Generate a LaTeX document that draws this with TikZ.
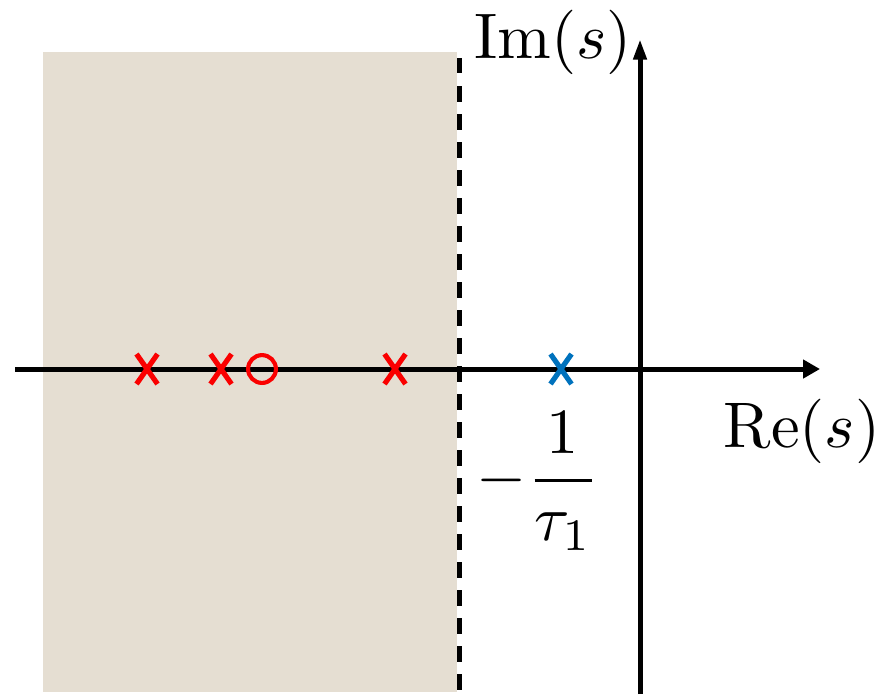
\documentclass[tikz,border=0pt]{standalone}
\usepackage{graphicx}
\usetikzlibrary{arrows.meta}
\definecolor{sand}{RGB}{229,222,210}
\definecolor{polered}{RGB}{250,0,0}
\definecolor{poleblue}{RGB}{0,114,189}
\newcommand{\bigtxt}[1]{\scalebox{1.065}{#1}}
\begin{document}
\begin{tikzpicture}[x=0.1653pt,y=-0.1653pt,
  axisline/.style={line width=0.83pt, black},
  dashline/.style={line width=0.75pt, black, dash pattern=on 2.56pt off 2.07pt},
  polex/.pic={\draw[line width=0.85pt] (-10.5,-15)--(10.5,15) (-10.5,15)--(10.5,-15);},
  poleo/.style={circle, draw=polered, line width=0.68pt, minimum size=4.6pt, inner sep=0pt},
  lbl/.style={inner sep=0pt}]
\useasboundingbox (0,0) rectangle (881,694);
% shaded region
\fill[sand] (43,52) rectangle (457,692);
% dashed boundary
\coordinate (dtop) at (459.5,58);
\coordinate (dbot) at (459.5,692);
\draw[dashline] (dtop) -- (dbot);
% axes
\coordinate (xl) at (15,369);
\coordinate (xr) at (820,369);
\coordinate (yb) at (640,694);
\coordinate (yt) at (640,39);
\draw[axisline, -{Triangle[length=2.81pt,width=2.98pt]}] (xl) -- (xr);
\draw[axisline, -{Triangle[length=3.4pt,width=2.1pt]}] (yb) -- (yt);
% poles and zero
\coordinate (p1) at (147,369);
\coordinate (p2) at (221,369);
\coordinate (p3) at (395,369);
\coordinate (pb) at (561,369);
\pic[polered] at (p1) {polex};
\pic[polered] at (p2) {polex};
\pic[polered] at (p3) {polex};
\pic[poleblue] at (pb) {polex};
\node[poleo] (z1) at (262,369) {};
% labels
\node[lbl, anchor=base] (im) at (553,58) {\bigtxt{$\mathrm{Im}(s)$}};
\node[lbl, anchor=base] (re) at (802,447) {\bigtxt{$\mathrm{Re}(s)$}};
\node[lbl] (tau) at (538,481) {\bigtxt{$\displaystyle -\frac{1}{\tau_1}$}};
\end{tikzpicture}
\end{document}
